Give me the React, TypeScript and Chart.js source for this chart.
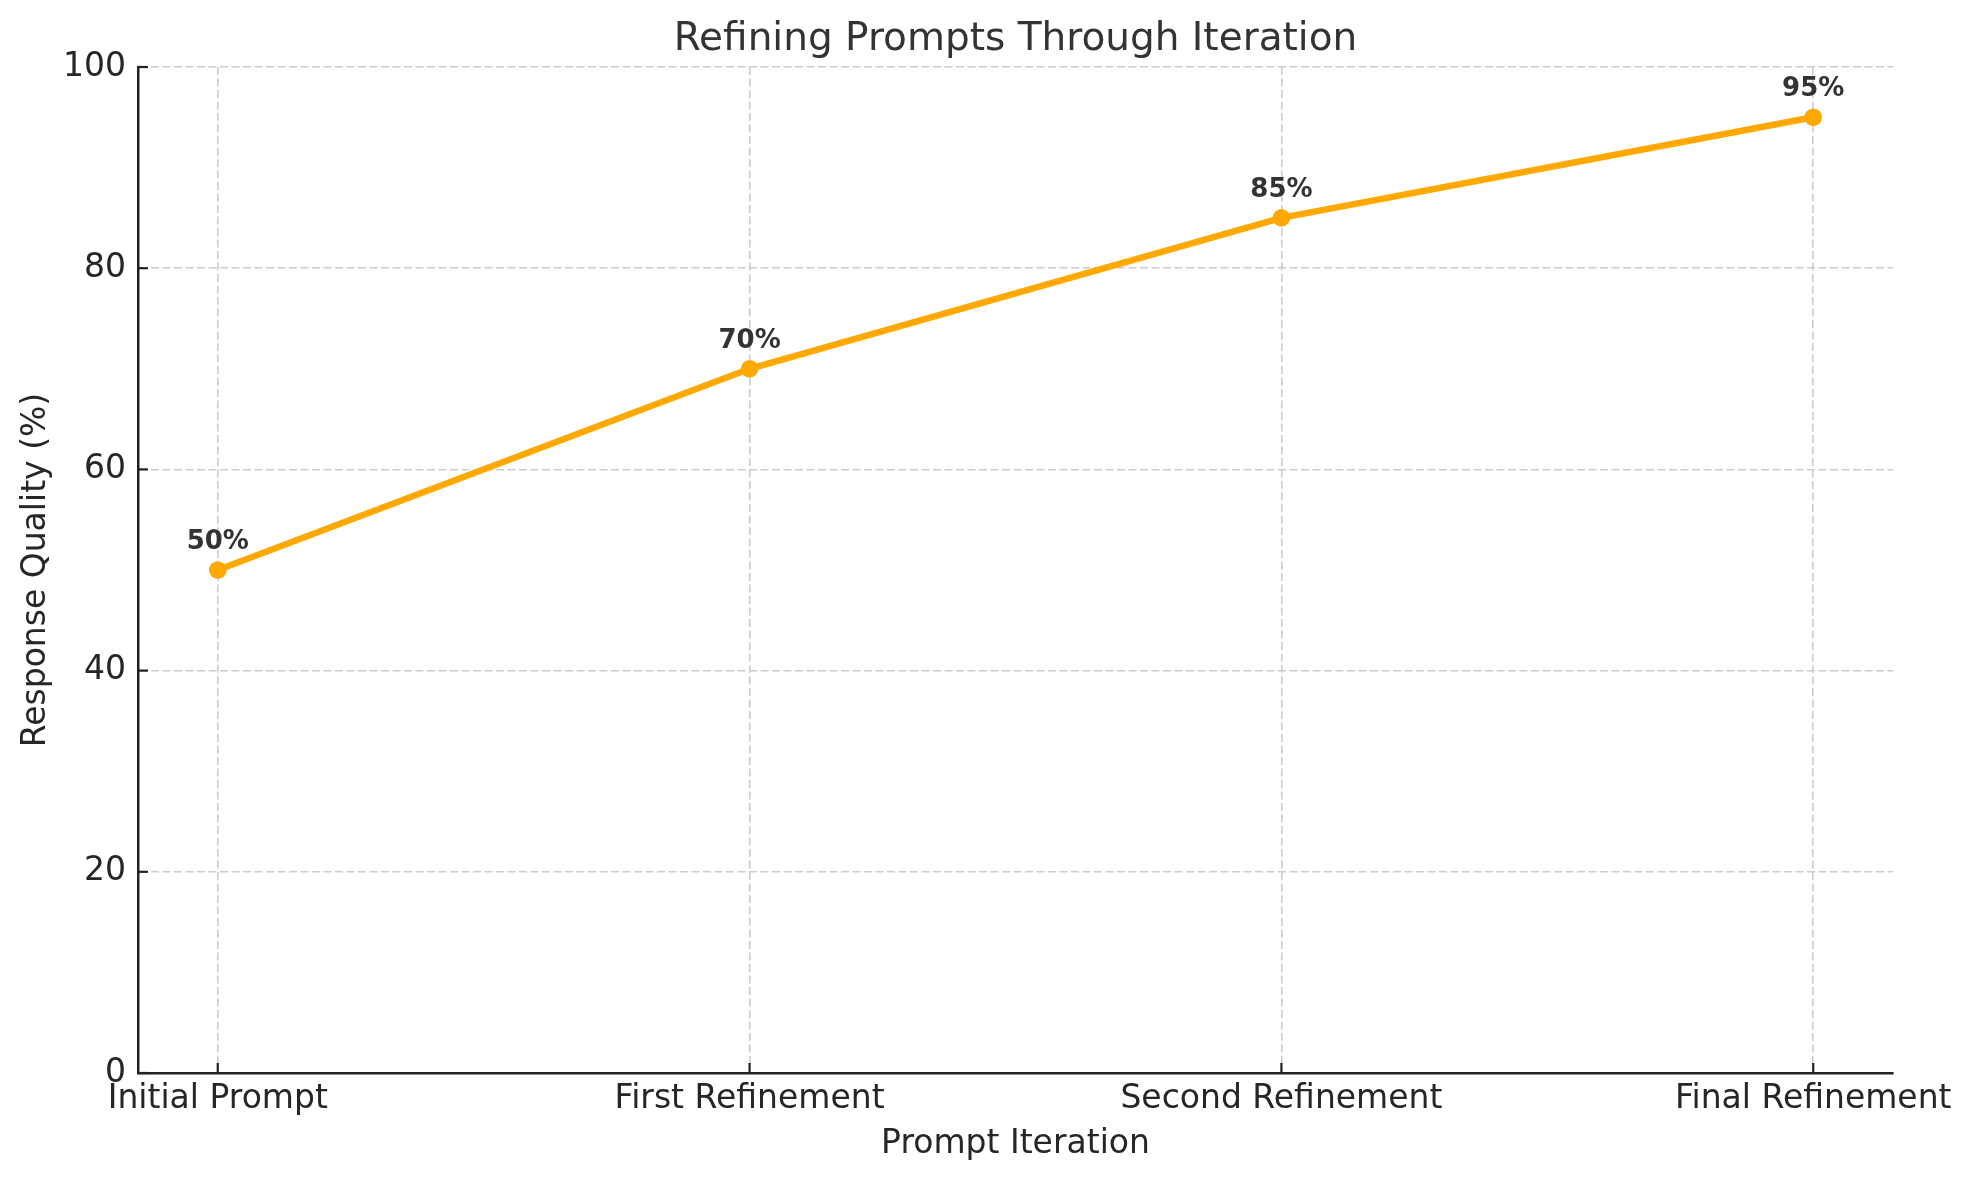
import React, { useEffect, useRef } from "react";
import { Chart, registerables } from "chart.js";

Chart.register(...registerables);

const categories: string[] = ["Initial Prompt", "First Refinement", "Second Refinement", "Final Refinement"];
const qualityValues: number[] = [50, 70, 85, 95];
const yTickValues: number[] = [0, 20, 40, 60, 80, 100];

const chartTitle = "Refining Prompts Through Iteration";
const xAxisTitle = "Prompt Iteration";
const yAxisTitle = "Response Quality (%)";

const FONT = "'DejaVu Sans', 'Liberation Sans', sans-serif";

const innerTicksPlugin = {
  id: "innerTicks",
  afterDraw(chart: any) {
    const { ctx, chartArea } = chart;
    const xs = chart.scales.x;
    const ys = chart.scales.y;
    ctx.save();
    ctx.strokeStyle = "#222222";
    ctx.lineWidth = 2.2;
    ctx.setLineDash([]);
    xs.ticks.forEach((t: any) => {
      const px = xs.getPixelForValue(t.value);
      ctx.beginPath();
      ctx.moveTo(px, chartArea.bottom);
      ctx.lineTo(px, chartArea.bottom - 10);
      ctx.stroke();
    });
    ys.ticks.forEach((t: any) => {
      const py = ys.getPixelForValue(t.value);
      ctx.beginPath();
      ctx.moveTo(chartArea.left, py);
      ctx.lineTo(chartArea.left + 10, py);
      ctx.stroke();
    });
    ctx.restore();
  },
};

const valueLabelPlugin = {
  id: "valueLabels",
  afterDatasetsDraw(chart: any) {
    const { ctx } = chart;
    const meta = chart.getDatasetMeta(0);
    ctx.save();
    ctx.font = `bold 26px ${FONT}`;
    ctx.fillStyle = "#333333";
    ctx.textAlign = "center";
    ctx.textBaseline = "alphabetic";
    meta.data.forEach((pt: any, i: number) => {
      ctx.fillText(`${qualityValues[i]}%`, pt.x, pt.y - 21);
    });
    ctx.restore();
  },
};

export default function App() {
  const canvasRef = useRef<HTMLCanvasElement | null>(null);

  useEffect(() => {
    document.body.style.margin = "0";
    document.body.style.overflow = "hidden";
    const canvas = canvasRef.current;
    if (!canvas) return;
    Chart.defaults.font.family = FONT;

    const chart = new Chart(canvas, {
      type: "line",
      data: {
        datasets: [
          {
            label: "Response Quality",
            data: qualityValues.map((v, i) => ({ x: i, y: v })),
            borderColor: "#FFA800",
            backgroundColor: "#FFA800",
            borderWidth: 6.5,
            pointRadius: 8.8,
            pointBorderWidth: 0,
            pointBackgroundColor: "#FFA800",
            tension: 0,
            fill: false,
          },
        ],
      },
      options: {
        responsive: false,
        animation: false,
        devicePixelRatio: 1,
        layout: { padding: { left: 0, right: 77, top: 0, bottom: 1 } },
        plugins: {
          legend: { display: false },
          tooltip: { enabled: false },
          title: {
            display: true,
            fullSize: false,
            text: chartTitle,
            color: "#333333",
            font: { family: FONT, size: 39, weight: "normal", lineHeight: 1.2 },
            padding: { top: 16.6, bottom: 3.6 },
          },
        },
        scales: {
          x: {
            type: "linear",
            min: -0.15,
            max: 3.15,
            afterBuildTicks: (scale: any) => {
              scale.ticks = categories.map((_, i) => ({ value: i }));
            },
            ticks: {
              callback: (value: any) => categories[Math.round(Number(value))] ?? "",
              color: "#262626",
              font: { family: FONT, size: 33, lineHeight: 1.2 },
              padding: 6.2,
              maxRotation: 0,
              minRotation: 0,
              autoSkip: false,
            },
            grid: {
              color: "#cccccc",
              lineWidth: 1.6,
              drawTicks: false,
              tickLength: 0,
            },
            border: { display: true, color: "#222222", width: 2.5, dash: [8, 3.5] },
            title: {
              display: true,
              text: xAxisTitle,
              color: "#262626",
              font: { family: FONT, size: 33, lineHeight: "38px" },
              padding: { top: 0, bottom: 16 },
            },
          },
          y: {
            type: "linear",
            min: 0,
            max: 100,
            afterBuildTicks: (scale: any) => {
              scale.ticks = yTickValues.map((v) => ({ value: v }));
            },
            ticks: {
              color: "#262626",
              font: { family: FONT, size: 33, lineHeight: 1.2 },
              padding: 12,
              callback: (value: any) => String(value),
            },
            grid: {
              color: "#cccccc",
              lineWidth: 1.6,
              drawTicks: false,
              tickLength: 0,
            },
            border: { display: true, color: "#222222", width: 2.5, dash: [8, 3.5] },
            title: {
              display: true,
              text: yAxisTitle,
              color: "#262626",
              font: { family: FONT, size: 33, lineHeight: "30px" },
              padding: { top: 21, bottom: 0 },
            },
          },
        },
      },
      plugins: [innerTicksPlugin, valueLabelPlugin],
    } as any);

    return () => {
      chart.destroy();
    };
  }, []);

  return (
    <div style={{ width: 1970, height: 1180, background: "#ffffff" }}>
      <canvas ref={canvasRef} width={1970} height={1180} style={{ width: 1970, height: 1180, display: "block" }} />
    </div>
  );
}
